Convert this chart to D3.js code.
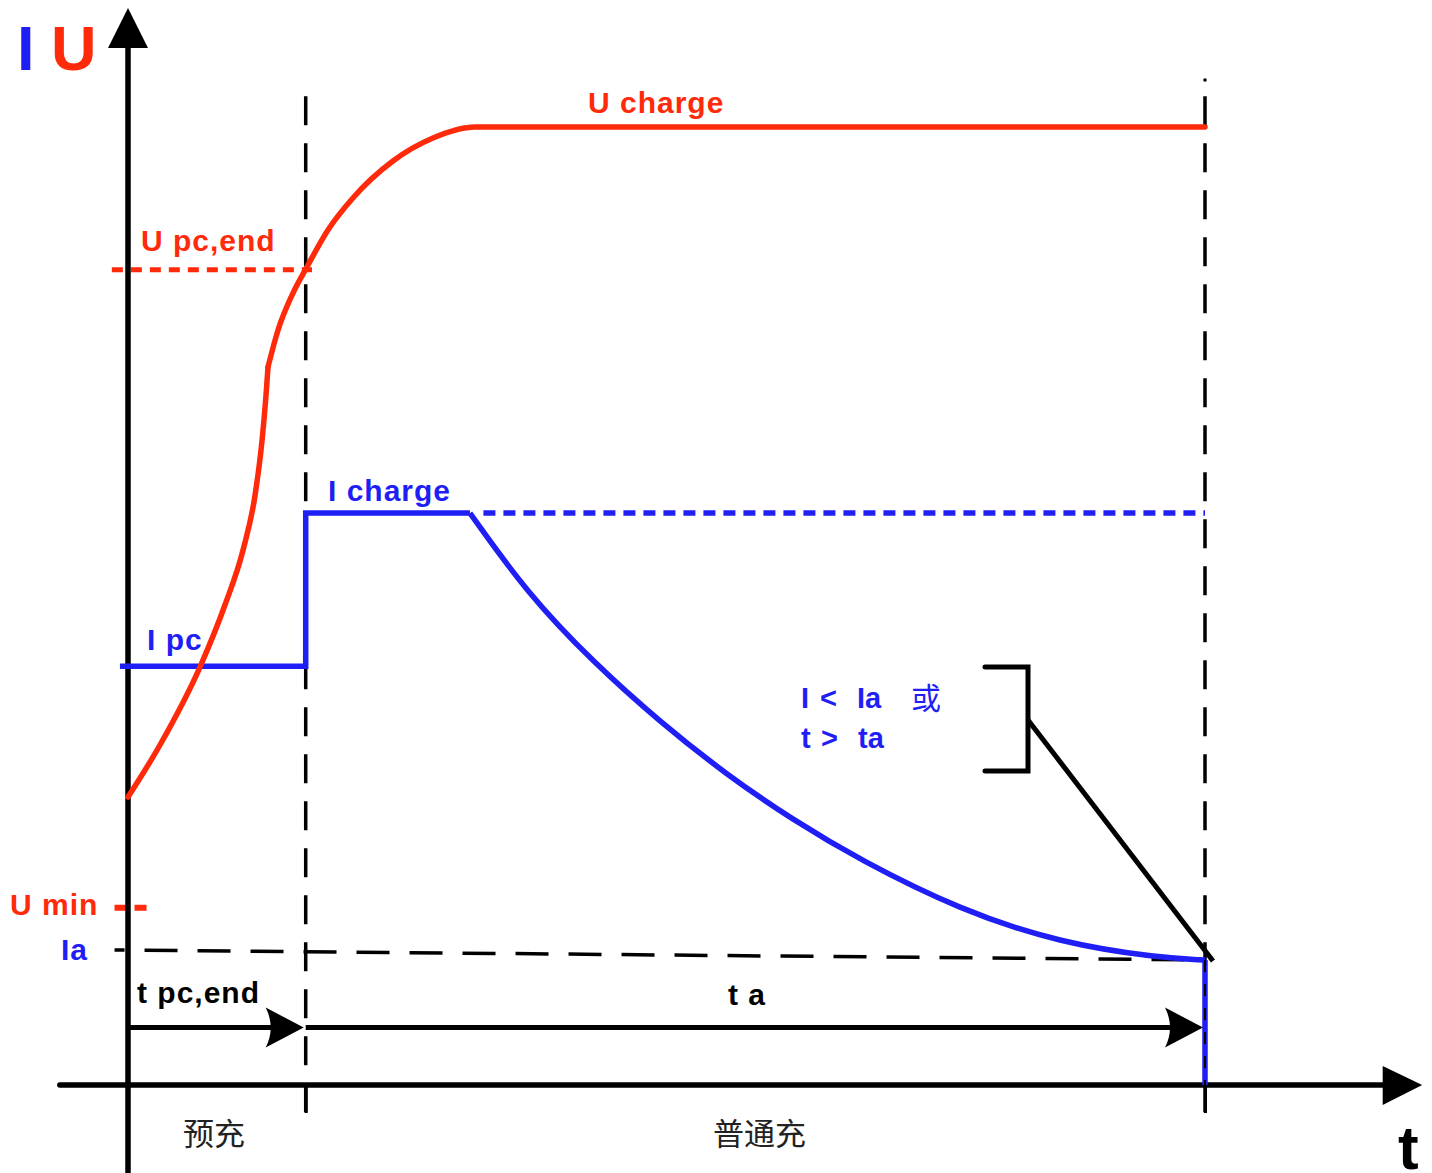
<!DOCTYPE html>
<html>
<head>
<meta charset="utf-8">
<script src="https://cdn.jsdelivr.net/npm/d3@7"></script>
<style>
  body { margin: 0; background: #fff; }
  text { font-family: "Liberation Sans", Arial, sans-serif; font-weight: bold; }
</style>
</head>
<body>
<div id="chart"></div>
<script>
// DATA ===========================================================================================
// time in arbitrary units, level in % of U charge
const tPc = 9.9
const tEnd = 60

// charge voltage U: lower part up to the kink, then upper part to the plateau
const uLowTime = [0, 1.78, 4.01, 5.40, 6.41, 7.08, 7.47, 7.69, 7.80]
const uLowVal  = [30.06, 35.49, 43.63, 50.10, 55.85, 61.59, 67.33, 72.03, 74.95]
const uHighTime = [7.80, 8.36, 9.14, 9.97, 11.14, 12.53, 14.76, 16.99, 19.33, 60]
const uHighVal  = [74.95, 78.81, 82.46, 85.39, 89.25, 92.59, 96.45, 98.85, 100, 100]

// charge current I
const iStepTime = [-0.45, tPc, tPc, 19.05]
const iStepVal  = [43.7, 43.7, 59.7, 59.7]
const iDecayTime = [19.05, 22.23, 25.91, 29.64, 33.37, 37.05, 40.78, 46.35, 51.92, 57.49, 60]
const iDecayVal  = [59.7, 51.36, 44.15, 37.89, 32.36, 27.66, 23.49, 18.27, 14.82, 13.26, 13.05]

// reference levels
const uPcEnd = 85.1
const uMin = 18.5
const iCharge = 59.7
const iaLevel = [14.1, 13.05]   // at the y axis / at t end

const bottomLabels = ['预充', '普通充']

// SET UP =========================================================================================
const width = 1432
const height = 1173

const svg = d3.select('#chart')
  .append('svg')
  .attr('width', width)
  .attr('height', height)

const x = d3.scaleLinear().domain([0, tEnd]).range([128, 1205])
const y = d3.scaleLinear().domain([0, 100]).range([1085, 127])

const red = '#ff2a0a'
const blue = '#1f1ff5'

const line = d3.line().x(d => x(d[0])).y(d => y(d[1]))
const curve = d3.line().x(d => x(d[0])).y(d => y(d[1])).curve(d3.curveMonotoneX)
const smooth = d3.line().x(d => x(d[0])).y(d => y(d[1])).curve(d3.curveBasis)
const zip = (a, b) => a.map((v, i) => [v, b[i]])

// GUIDES =========================================================================================
// vertical dashed phase lines
svg.selectAll('.phase')
  .data([tPc, tEnd])
  .join('line')
    .attr('x1', d => x(d)).attr('x2', d => x(d))
    .attr('y1', y(103.2)).attr('y2', y(-2.9))
    .attr('stroke', '#000').attr('stroke-width', 3.5)
    .attr('stroke-dasharray', '29,18')
svg.append('circle')
  .attr('cx', x(tEnd)).attr('cy', 80).attr('r', 1.8).attr('fill', '#000')

// Ia dashed line
svg.append('path')
  .attr('d', line([[-0.75, iaLevel[0]], [tEnd, iaLevel[1]]]))
  .attr('fill', 'none').attr('stroke', '#000').attr('stroke-width', 3.5)
  .attr('stroke-dasharray', '33,20')
  .attr('stroke-dashoffset', 23)

// U pc,end dotted
svg.append('path')
  .attr('d', line([[-0.9, uPcEnd], [10.25, uPcEnd]]))
  .attr('fill', 'none').attr('stroke', red).attr('stroke-width', 5)
  .attr('stroke-dasharray', '11,8')

// U min dots
svg.append('path')
  .attr('d', line([[-0.75, uMin], [1.1, uMin]]))
  .attr('fill', 'none').attr('stroke', red).attr('stroke-width', 6)
  .attr('stroke-dasharray', '12,8')

// I charge dotted continuation
svg.append('path')
  .attr('d', line([[19.8, iCharge], [tEnd, iCharge]]))
  .attr('fill', 'none').attr('stroke', blue).attr('stroke-width', 5.5)
  .attr('stroke-dasharray', '12,8')

// AXES ===========================================================================================
svg.append('g')
  .attr('transform', `translate(0, ${y(0)})`)
  .call(d3.axisBottom(x).tickValues([tPc, tEnd]).tickSize(28).tickFormat(''))
  .call(g => g.select('.domain').remove())
  .call(g => g.selectAll('.tick line').attr('stroke-width', 3))

svg.append('line')
  .attr('x1', x(-3.8)).attr('x2', x(70.5))
  .attr('y1', y(0)).attr('y2', y(0))
  .attr('stroke', '#000').attr('stroke-width', 5.5).attr('stroke-linecap', 'round')
svg.append('path')
  .attr('d', `M${x(72.1)},${y(0)} L${x(69.9)},${y(0) - 19} L${x(69.9)},${y(0) + 20} Z`)
  .attr('fill', '#000')

svg.append('line')
  .attr('x1', x(0)).attr('x2', x(0))
  .attr('y1', height).attr('y2', 45)
  .attr('stroke', '#000').attr('stroke-width', 5.5)
svg.append('path')
  .attr('d', `M${x(0)},8 L${x(0) - 20},48 L${x(0) + 20},48 Z`)
  .attr('fill', '#000')

// MARKS ==========================================================================================
// current
svg.append('path')
  .attr('d', line(zip(iStepTime, iStepVal)))
  .attr('fill', 'none').attr('stroke', blue).attr('stroke-width', 5.5)
svg.append('path')
  .attr('d', smooth(zip(iDecayTime, iDecayVal)))
  .attr('fill', 'none').attr('stroke', blue).attr('stroke-width', 5.5)
svg.append('path')
  .attr('d', line([[tEnd, iDecayVal[iDecayVal.length - 1]], [tEnd, 0]]))
  .attr('fill', 'none').attr('stroke', blue).attr('stroke-width', 5.5)
svg.append('line')
  .attr('x1', x(tEnd)).attr('x2', x(tEnd))
  .attr('y1', y(13.05)).attr('y2', y(0))
  .attr('stroke', '#000').attr('stroke-width', 2)
  .attr('stroke-dasharray', '12,12')

// voltage
svg.append('path')
  .attr('d', curve(zip(uLowTime, uLowVal)))
  .attr('fill', 'none').attr('stroke', red).attr('stroke-width', 5.5)
  .attr('stroke-linecap', 'round')
svg.append('path')
  .attr('d', curve(zip(uHighTime, uHighVal)))
  .attr('fill', 'none').attr('stroke', red).attr('stroke-width', 5.5)
  .attr('stroke-linecap', 'round')

// time span arrows
const arrowY = y(6)
function timeArrow(t0, t1) {
  svg.append('line')
    .attr('x1', x(t0)).attr('x2', x(t1) - 10)
    .attr('y1', arrowY).attr('y2', arrowY)
    .attr('stroke', '#000').attr('stroke-width', 5)
  const tip = x(t1) - 2
  svg.append('path')
    .attr('d', `M${tip},${arrowY} L${tip - 38},${arrowY - 20} Q${tip - 28},${arrowY} ${tip - 38},${arrowY + 20} Z`)
    .attr('fill', '#000')
}
timeArrow(0, tPc)
timeArrow(tPc, tEnd)

// bracket + pointer
svg.append('path')
  .attr('d', 'M985,667 L1028,667 L1028,771 L985,771')
  .attr('fill', 'none').attr('stroke', '#000').attr('stroke-width', 5)
  .attr('stroke-linecap', 'round')
svg.append('line')
  .attr('x1', 1028).attr('y1', 720)
  .attr('x2', x(tEnd) + 8).attr('y2', y(iaLevel[1]) + 1)
  .attr('stroke', '#000').attr('stroke-width', 5)

// LABELS =========================================================================================
function label(txt, px, py, color, size, extra) {
  const t = svg.append('text')
    .attr('x', px).attr('y', py)
    .attr('fill', color)
    .attr('font-size', size)
    .text(txt)
  if (extra) extra(t)
  return t
}
const spaced = t => t.attr('letter-spacing', 1)
const cjk = t => t.style('font-weight', 'normal')
  .style('font-family', '"Noto Sans CJK SC", sans-serif')

label('I', 17, 70, blue, 63)
label('U', 51, 70, red, 63)
label('U charge', 588, 113, red, 30, spaced)
label('U pc,end', 141, 251, red, 30, spaced)
label('I charge', 328, 501, blue, 30, spaced)
label('I pc', 147, 650, blue, 30, spaced)
label('U min', 10, 915, red, 30, spaced)
label('Ia', 61, 960, blue, 30, spaced)
label('t pc,end', 137, 1003, '#000', 30, spaced)
label('t a', 728, 1005, '#000', 30, spaced)

label('I', 801, 708, blue, 29)
label('<', 820, 708, blue, 29)
label('Ia', 857, 708, blue, 29)
label('或', 911, 709, blue, 30, cjk)
label('t', 801, 748, blue, 29)
label('>', 821, 748, blue, 29)
label('ta', 858, 748, blue, 29)

svg.selectAll('.phaseLabel')
  .data(bottomLabels)
  .join('text')
    .attr('x', (d, i) => i === 0 ? 183 : 713)
    .attr('y', 1145)
    .attr('fill', '#222')
    .attr('font-size', 31)
    .call(cjk)
    .text(d => d)

label('t', 1398, 1169, '#000', 62)
</script>
</body>
</html>
